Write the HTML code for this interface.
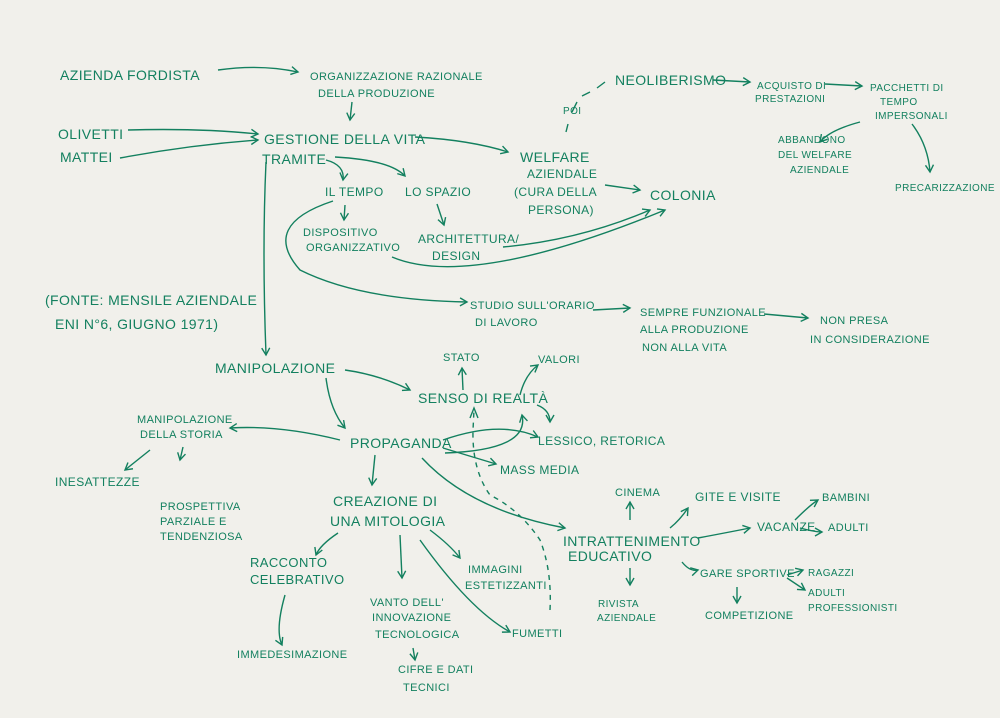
<!DOCTYPE html>
<html><head><meta charset="utf-8"><style>
html,body{margin:0;padding:0;background:#f1f0eb;}
svg{display:block}
text{font-family:"Liberation Sans",sans-serif;fill:#13805f;font-size:12px;letter-spacing:0.4px}
.b{font-size:14px}
path{stroke:#13805f;fill:none;stroke-width:1.4}
</style></head><body>
<svg width="1000" height="718" viewBox="0 0 1000 718">
<defs><marker id="a" markerWidth="10" markerHeight="10" refX="8" refY="5" orient="auto" markerUnits="userSpaceOnUse"><path d="M1,1 L8,5 L1,9" style="stroke-width:1.4"/></marker></defs>
<rect width="1000" height="718" fill="#f1f0eb"/>
<g class="t">
<text x="60" y="80" class="b">AZIENDA FORDISTA</text>
<text x="310" y="80" style="font-size:11px">ORGANIZZAZIONE RAZIONALE</text>
<text x="318" y="97" style="font-size:11px">DELLA PRODUZIONE</text>
<text x="58" y="139" class="b">OLIVETTI</text>
<text x="60" y="162" class="b">MATTEI</text>
<text x="264" y="144" class="b">GESTIONE DELLA VITA</text>
<text x="262" y="164" class="b">TRAMITE</text>
<text x="615" y="85" class="b">NEOLIBERISMO</text>
<text x="563" y="114" style="font-size:10px">POI</text>
<text x="757" y="89" style="font-size:10px">ACQUISTO DI</text>
<text x="755" y="102" style="font-size:10px">PRESTAZIONI</text>
<text x="870" y="91" style="font-size:10px">PACCHETTI DI</text>
<text x="880" y="105" style="font-size:10px">TEMPO</text>
<text x="875" y="119" style="font-size:10px">IMPERSONALI</text>
<text x="778" y="143" style="font-size:10px">ABBANDONO</text>
<text x="778" y="158" style="font-size:10px">DEL WELFARE</text>
<text x="790" y="173" style="font-size:10px">AZIENDALE</text>
<text x="895" y="191" style="font-size:10px">PRECARIZZAZIONE</text>
<text x="520" y="162" class="b">WELFARE</text>
<text x="527" y="178">AZIENDALE</text>
<text x="514" y="196">(CURA DELLA</text>
<text x="528" y="214">PERSONA)</text>
<text x="650" y="200" class="b">COLONIA</text>
<text x="325" y="196">IL TEMPO</text>
<text x="405" y="196">LO SPAZIO</text>
<text x="303" y="236" style="font-size:11px">DISPOSITIVO</text>
<text x="306" y="251" style="font-size:11px">ORGANIZZATIVO</text>
<text x="418" y="243">ARCHITETTURA/</text>
<text x="432" y="260">DESIGN</text>
<text x="45" y="305" class="b">(FONTE: MENSILE AZIENDALE</text>
<text x="55" y="329" class="b">ENI N°6, GIUGNO 1971)</text>
<text x="470" y="309" style="font-size:11px">STUDIO SULL'ORARIO</text>
<text x="475" y="326" style="font-size:11px">DI LAVORO</text>
<text x="640" y="316" style="font-size:11px">SEMPRE FUNZIONALE</text>
<text x="640" y="333" style="font-size:11px">ALLA PRODUZIONE</text>
<text x="642" y="351" style="font-size:11px">NON ALLA VITA</text>
<text x="820" y="324" style="font-size:11px">NON PRESA</text>
<text x="810" y="343" style="font-size:11px">IN CONSIDERAZIONE</text>
<text x="215" y="373" class="b">MANIPOLAZIONE</text>
<text x="443" y="361" style="font-size:11px">STATO</text>
<text x="538" y="363" style="font-size:11px">VALORI</text>
<text x="418" y="403" class="b">SENSO DI REALTÀ</text>
<text x="137" y="423" style="font-size:11px">MANIPOLAZIONE</text>
<text x="140" y="438" style="font-size:11px">DELLA STORIA</text>
<text x="350" y="448" class="b">PROPAGANDA</text>
<text x="538" y="445">LESSICO, RETORICA</text>
<text x="500" y="474">MASS MEDIA</text>
<text x="55" y="486">INESATTEZZE</text>
<text x="160" y="510" style="font-size:11px">PROSPETTIVA</text>
<text x="160" y="525" style="font-size:11px">PARZIALE E</text>
<text x="160" y="540" style="font-size:11px">TENDENZIOSA</text>
<text x="333" y="506" class="b">CREAZIONE DI</text>
<text x="330" y="526" class="b">UNA MITOLOGIA</text>
<text x="615" y="496" style="font-size:11px">CINEMA</text>
<text x="695" y="501">GITE E VISITE</text>
<text x="822" y="501" style="font-size:11px">BAMBINI</text>
<text x="828" y="531" style="font-size:11px">ADULTI</text>
<text x="563" y="546" class="b">INTRATTENIMENTO</text>
<text x="568" y="561" class="b">EDUCATIVO</text>
<text x="757" y="531">VACANZE</text>
<text x="700" y="577" style="font-size:11px">GARE SPORTIVE</text>
<text x="808" y="576" style="font-size:10px">RAGAZZI</text>
<text x="808" y="596" style="font-size:10px">ADULTI</text>
<text x="808" y="611" style="font-size:10px">PROFESSIONISTI</text>
<text x="705" y="619" style="font-size:11px">COMPETIZIONE</text>
<text x="598" y="607" style="font-size:10px">RIVISTA</text>
<text x="597" y="621" style="font-size:10px">AZIENDALE</text>
<text x="250" y="567" style="font-size:13px">RACCONTO</text>
<text x="250" y="584" style="font-size:13px">CELEBRATIVO</text>
<text x="468" y="573" style="font-size:11px">IMMAGINI</text>
<text x="465" y="589" style="font-size:11px">ESTETIZZANTI</text>
<text x="370" y="606" style="font-size:11px">VANTO DELL'</text>
<text x="372" y="621" style="font-size:11px">INNOVAZIONE</text>
<text x="375" y="638" style="font-size:11px">TECNOLOGICA</text>
<text x="512" y="637" style="font-size:11px">FUMETTI</text>
<text x="237" y="658" style="font-size:11px">IMMEDESIMAZIONE</text>
<text x="398" y="673" style="font-size:11px">CIFRE E DATI</text>
<text x="403" y="691" style="font-size:11px">TECNICI</text>
</g>
<g marker-end="url(#a)">
<path d="M218,70 Q260,64 298,72"/>
<path d="M352,102 L350,120"/>
<path d="M128,130 Q200,128 258,134"/>
<path d="M120,158 Q190,145 258,140"/>
<path d="M415,137 Q470,140 508,152"/>
<path d="M605,185 L640,190"/>
<path d="M326,160 Q345,165 343,180"/>
<path d="M335,157 Q390,160 405,176"/>
<path d="M345,205 L344,220"/>
<path d="M437,204 L444,225"/>
<path d="M503,247 Q580,240 650,210"/>
<path d="M392,257 Q470,290 665,210"/>
<path d="M333,201 Q260,225 300,270 Q360,300 467,302"/>
<path d="M266,162 Q262,250 266,355"/>
<path d="M713,80 L750,82"/>
<path d="M825,84 L862,86"/>
<path d="M860,122 Q830,130 820,142"/>
<path d="M912,124 Q928,145 930,172"/>
<path d="M593,310 L630,308"/>
<path d="M764,314 L808,318"/>
<path d="M345,370 Q380,375 410,390"/>
<path d="M326,378 Q330,410 345,428"/>
<path d="M340,440 Q280,425 230,428"/>
<path d="M150,450 L125,470"/>
<path d="M183,447 L180,460"/>
<path d="M443,440 Q500,420 538,437"/>
<path d="M443,448 L496,464"/>
<path d="M445,453 Q530,450 522,415"/>
<path d="M463,390 L462,368"/>
<path d="M520,395 Q525,375 538,365"/>
<path d="M537,405 Q550,410 550,422"/>
<path d="M422,458 Q470,510 565,528"/>
<path d="M375,455 L372,485"/>
<path d="M338,533 Q320,545 316,555"/>
<path d="M400,535 L402,578"/>
<path d="M430,530 Q450,545 460,558"/>
<path d="M420,540 Q470,610 510,632"/>
<path d="M285,595 Q275,630 282,645"/>
<path d="M413,648 L415,660"/>
<path d="M630,520 L630,502"/>
<path d="M670,528 Q680,520 688,508"/>
<path d="M698,538 Q730,532 750,528"/>
<path d="M795,520 Q810,505 818,500"/>
<path d="M800,528 Q815,532 822,532"/>
<path d="M682,562 Q690,572 698,570"/>
<path d="M630,568 L630,585"/>
<path d="M737,587 L737,603"/>
<path d="M787,575 L803,570"/>
<path d="M787,578 L805,590"/>
</g>
<path d="M566,132 L568,124 M572,112 L577,102 M582,96 L590,92 M597,88 L605,82" />
<path d="M550,610 Q552,570 540,540 Q520,510 490,495 Q472,470 473,430 L474,410" stroke-dasharray="5,5"/>
<path d="M470,418 L474,408 L478,418"/>
</svg>
</body></html>
